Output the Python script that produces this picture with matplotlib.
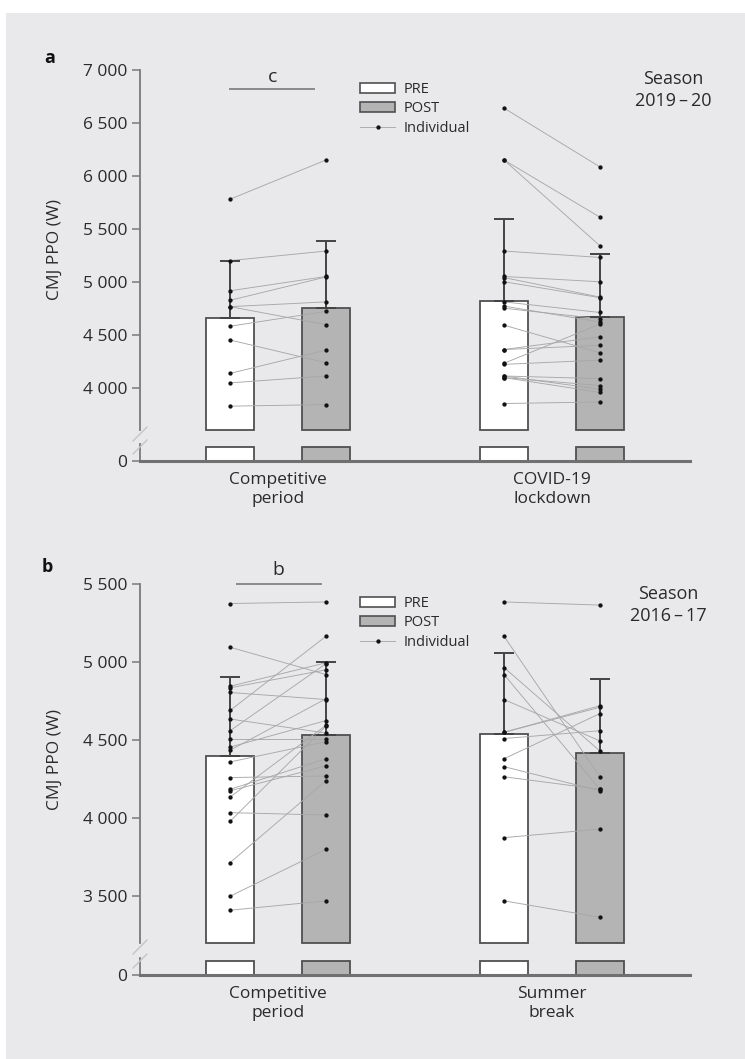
import matplotlib
matplotlib.use('Agg')
import matplotlib.pyplot as plt
from matplotlib.patches import Patch, Rectangle
from matplotlib.lines import Line2D

plt.rcParams['font.family'] = ['Open Sans', 'DejaVu Sans']

W, H = 745, 1059

TEXT = '#2a2a2a'
SPINE = '#7a7a7a'
EDGE = '#505050'
PRE_COLOR = 'white'
POST_COLOR = '#b4b4b4'

# ---- Panel a : season 2019-20
a_groups = ['Competitive\nperiod', 'COVID-19\nlockdown']
a_pre_mean = [4660, 4820]
a_post_mean = [4750, 4670]
a_pre_sd = [540, 775]
a_post_sd = [635, 595]
a_comp_pre = [5780, 5200, 4915, 4825, 4765, 4765, 4580, 4450, 4135, 4045, 3825]
a_comp_post = [6150, 5290, 5050, 5045, 4810, 4595, 4720, 4235, 4355, 4110, 3840]
a_covid_pre = [6640, 6150, 6150, 5290, 5050, 5040, 5000, 4810, 4770, 4750, 4590,
               4360, 4360, 4230, 4220, 4110, 4110, 4095, 4095, 3850]
a_covid_post = [6085, 5610, 5340, 5230, 5000, 4855, 4850, 4710, 4620, 4650, 4330,
                4480, 4400, 4600, 4260, 4085, 3985, 4020, 3955, 3865]
a_ticks = [4000, 4500, 5000, 5500, 6000, 6500, 7000]

# ---- Panel b : season 2016-17
b_groups = ['Competitive\nperiod', 'Summer\nbreak']
b_pre_mean = [4395, 4540]
b_post_mean = [4535, 4415]
b_pre_sd = [510, 520]
b_post_sd = [465, 478]
b_comp_pre = [5375, 5095, 4845, 4835, 4805, 4690, 4635, 4560, 4510, 4455, 4435,
              4360, 4260, 4185, 4175, 4135, 4035, 3980, 3715, 3500, 3410]
b_comp_post = [5385, 4920, 4995, 4950, 4760, 5165, 4545, 4990, 4510, 4625, 4765,
               4490, 4270, 4380, 4335, 4595, 4020, 4590, 4240, 3800, 3470]
b_summer_pre = [5385, 5165, 4965, 4920, 4760, 4550, 4550, 4510, 4380, 4330, 4265, 3875, 3470]
b_summer_post = [5365, 4265, 4430, 4185, 4495, 4710, 4720, 4560, 4670, 4175, 4185, 3930, 3365]
b_ticks = [3500, 4000, 4500, 5000, 5500]


def fx(px):
    return px / W


def fy(py):
    return 1 - py / H


def axes_px(fig, x0, y0, x1, y1):
    return fig.add_axes([fx(x0), fy(y1), fx(x1) - fx(x0), fy(y0) - fy(y1)])


def fmt(v):
    # 7000 -> "7 000"
    return f'{v:,}'.replace(',', ' ')


def draw_panel(fig, top_y, split_y, zero_y, base, top, ticks, groups,
               pre_mean, post_mean, pre_sd, post_sd, individuals):
    x_pre = [-0.175, 0.825]
    x_post = [0.175, 1.175]
    width = 0.175

    # upper (broken) axes
    ax = axes_px(fig, 140, top_y, 690, split_y)
    ax.set_facecolor('none')
    ax.set_xlim(-0.504, 1.504)
    ax.set_ylim(base, top)
    for s in ['top', 'right', 'bottom']:
        ax.spines[s].set_visible(False)
    ax.spines['left'].set_color(SPINE)
    ax.spines['left'].set_linewidth(1.3)
    ax.set_xticks([])
    ax.set_yticks(ticks)
    ax.set_yticklabels([fmt(t) for t in ticks])
    ax.tick_params(axis='y', colors=SPINE, labelcolor=TEXT, length=6, width=1.1,
                   labelsize=12.5, pad=3)

    ax.bar(x_pre, [m - base for m in pre_mean], bottom=base, width=width,
           color=PRE_COLOR, edgecolor=EDGE, linewidth=1.3, clip_on=False, zorder=2)
    ax.bar(x_post, [m - base for m in post_mean], bottom=base, width=width,
           color=POST_COLOR, edgecolor=EDGE, linewidth=1.3, clip_on=False, zorder=2)

    # individual lines
    for g, (pre, post) in enumerate(individuals):
        for p0, p1 in zip(pre, post):
            ax.plot([x_pre[g], x_post[g]], [p0, p1], color='#a8a8a8', lw=0.65, zorder=3)
        ax.plot([x_pre[g]] * len(pre), pre, 'o', color='#111111', ms=2.1, zorder=4)
        ax.plot([x_post[g]] * len(post), post, 'o', color='#111111', ms=2.1, zorder=4)

    ax.errorbar(x_pre, pre_mean, yerr=[[0, 0], pre_sd], fmt='none', ecolor='#444444',
                elinewidth=1.4, capsize=7, capthick=1.4, zorder=3)
    ax.errorbar(x_post, post_mean, yerr=[[0, 0], post_sd], fmt='none', ecolor='#444444',
                elinewidth=1.4, capsize=7, capthick=1.4, zorder=3)

    # lower axes with the stubs
    low = axes_px(fig, 140, zero_y - 17, 690, zero_y)
    low.set_facecolor('none')
    low.set_xlim(-0.504, 1.504)
    low.set_ylim(0, 1.2)
    for s in ['top', 'right']:
        low.spines[s].set_visible(False)
    low.spines['left'].set_color(SPINE)
    low.spines['left'].set_linewidth(1.3)
    low.spines['bottom'].set_color('#707070')
    low.spines['bottom'].set_linewidth(2.2)
    low.set_yticks([0])
    low.set_yticklabels(['0'])
    low.tick_params(axis='y', colors=SPINE, labelcolor=TEXT, length=6, width=1.1,
                    labelsize=12.5, pad=3)
    low.set_xticks([0, 1])
    low.set_xticklabels(groups, color=TEXT, fontsize=12.5, linespacing=1.2)
    low.tick_params(axis='x', length=0, pad=8)
    low.bar(x_pre, [1, 1], width=width, color=PRE_COLOR, edgecolor=EDGE, linewidth=1.3, zorder=2)
    low.bar(x_post, [1, 1], width=width, color=POST_COLOR, edgecolor=EDGE, linewidth=1.3, zorder=2)

    # break marks
    for yy in [split_y + 4, zero_y - 14]:
        fig.add_artist(Line2D([fx(133), fx(147)], [fy(yy + 7), fy(yy - 7)],
                              color='#c4c4c4', lw=1.0))
    return ax


def add_legend(fig, y0):
    handles = [Patch(facecolor=PRE_COLOR, edgecolor=EDGE, linewidth=1.2),
               Patch(facecolor=POST_COLOR, edgecolor=EDGE, linewidth=1.2),
               Line2D([], [], color='#a8a8a8', lw=0.65, marker='o', ms=2.1,
                      mfc='#111111', mec='#111111')]
    fig.legend(handles, ['PRE', 'POST', 'Individual'], loc='upper left',
               bbox_to_anchor=(fx(360), fy(y0)), frameon=False, fontsize=10.5,
               handlelength=2.4, handleheight=0.7, handletextpad=0.6,
               labelspacing=0.3, borderpad=0, borderaxespad=0, labelcolor=TEXT)


def main():
    fig = plt.figure(figsize=(W / 100, H / 100), dpi=100)
    fig.patch.set_facecolor('white')
    fig.add_artist(Rectangle((fx(6), 0), 1 - fx(6), fy(13), transform=fig.transFigure,
                             facecolor='#e9e9eb', edgecolor='none', zorder=-10))

    # panel a
    ax_a = draw_panel(fig, 70, 430, 461, 3600, 7000, a_ticks, a_groups,
                      a_pre_mean, a_post_mean, a_pre_sd, a_post_sd,
                      [(a_comp_pre, a_comp_post), (a_covid_pre, a_covid_post)])
    ax_a.plot([-0.175, 0.13], [6820, 6820], color='#8a8a8a', lw=1.4, clip_on=False)
    ax_a.text(-0.02, 6850, 'c', ha='center', va='bottom', fontsize=14, color=TEXT)
    add_legend(fig, 82)
    fig.text(fx(673), fy(90), 'Season\n2019\u2009–\u200920', ha='center', va='center',
             fontsize=13, color=TEXT, linespacing=1.3)
    fig.text(fx(50), fy(58), 'a', ha='center', va='center', fontsize=13,
             fontweight='bold', color='#111111')
    fig.text(fx(55), fy(250), 'CMJ PPO (W)', rotation=90, ha='center', va='center',
             fontsize=12.5, color=TEXT)

    # panel b
    ax_b = draw_panel(fig, 584, 943, 975, 3200, 5500, b_ticks, b_groups,
                      b_pre_mean, b_post_mean, b_pre_sd, b_post_sd,
                      [(b_comp_pre, b_comp_post), (b_summer_pre, b_summer_post)])
    ax_b.plot([-0.15, 0.155], [5500, 5500], color='#8a8a8a', lw=1.4, clip_on=False)
    ax_b.text(0.0, 5530, 'b', ha='center', va='bottom', fontsize=14, color=TEXT)
    add_legend(fig, 596)
    fig.text(fx(668), fy(605), 'Season\n2016\u2009–\u200917', ha='center', va='center',
             fontsize=13, color=TEXT, linespacing=1.3)
    fig.text(fx(47), fy(567), 'b', ha='center', va='center', fontsize=13,
             fontweight='bold', color='#111111')
    fig.text(fx(55), fy(760), 'CMJ PPO (W)', rotation=90, ha='center', va='center',
             fontsize=12.5, color=TEXT)

    fig.savefig('out.png', dpi=100, facecolor=fig.get_facecolor())


if __name__ == '__main__':
    main()
